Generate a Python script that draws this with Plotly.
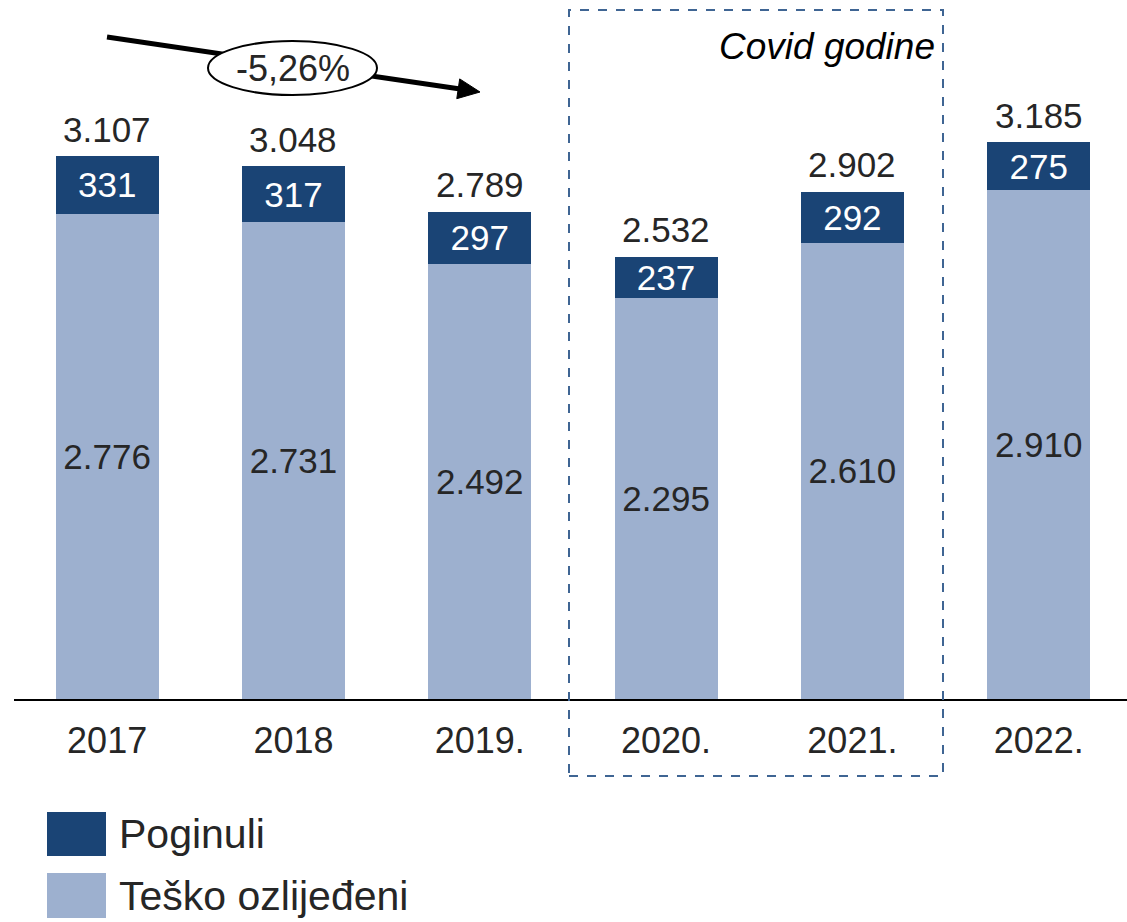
import plotly.graph_objects as go

# Data
years = ["2017", "2018", "2019.", "2020.", "2021.", "2022."]
poginuli = [331, 317, 297, 237, 292, 275]
tesko_ozlijedeni = [2776, 2731, 2492, 2295, 2610, 2910]
ukupno = [p + t for p, t in zip(poginuli, tesko_ozlijedeni)]
promjena_label = "-5,26%"

DARK = "#1A4475"
LIGHT = "#9DB0CF"
TEXT = "#262626"
FONT = "Liberation Sans, Arial, sans-serif"

W, H = 1127, 922
ML, MR, MT, MB = 14, 0, 0, 223
PW, PH = W - ML - MR, H - MT - MB


def px(x):
    """pixel x -> paper x"""
    return (x - ML) / PW


def py(y):
    """pixel y -> paper y"""
    return (H - MB - y) / PH


def fmt(v):
    return f"{v:,}".replace(",", ".")


xi = list(range(len(years)))

fig = go.Figure()
fig.add_trace(go.Bar(
    x=xi, y=tesko_ozlijedeni, name="Teško ozlijeđeni",
    marker=dict(color=LIGHT, line=dict(width=0)),
    texttemplate="%{y:,.0f}", textposition="inside", insidetextanchor="middle",
    textfont=dict(color=TEXT, size=35, family=FONT),
))
fig.add_trace(go.Bar(
    x=xi, y=poginuli, name="Poginuli",
    marker=dict(color=DARK, line=dict(width=0)),
    texttemplate="%{y:,.0f}", textposition="inside", insidetextanchor="middle",
    textfont=dict(color="white", size=35, family=FONT),
))

shapes = []
annotations = []

# Totals above each stack
for x, total in zip(xi, ukupno):
    annotations.append(dict(x=x, y=total, xref="x", yref="y", text=fmt(total),
                            showarrow=False, xanchor="center", yanchor="middle",
                            yshift=27, font=dict(size=35, color=TEXT, family=FONT)))

# Covid period box
shapes.append(dict(type="rect", xref="paper", yref="paper",
                   x0=px(569), x1=px(943), y0=py(776), y1=py(10),
                   line=dict(color="#3F6593", width=2, dash="dash"),
                   fillcolor="rgba(0,0,0,0)", layer="above"))
annotations.append(dict(xref="paper", yref="paper", x=px(937), y=py(47),
                        xanchor="right", yanchor="middle", showarrow=False,
                        text="<i>Covid godine</i>",
                        font=dict(size=37, color="black", family=FONT)))

# Trend arrow with percentage ellipse
ax0, ay0, tx, ty = 107, 37, 480, 92
dx, dy = tx - ax0, ty - ay0
ln = (dx ** 2 + dy ** 2) ** 0.5
ux, uy = dx / ln, dy / ln
hl, hw = 22, 10
bx, by = tx - hl * ux, ty - hl * uy
shapes.append(dict(type="line", xref="paper", yref="paper",
                   x0=px(ax0), y0=py(ay0), x1=px(bx + 2 * ux), y1=py(by + 2 * uy),
                   line=dict(color="black", width=5), layer="above"))
p1 = (bx - hw * uy, by + hw * ux)
p2 = (bx + hw * uy, by - hw * ux)
shapes.append(dict(type="path", xref="paper", yref="paper",
                   path=(f"M{px(tx)},{py(ty)} L{px(p1[0])},{py(p1[1])} "
                         f"L{px(p2[0])},{py(p2[1])} Z"),
                   fillcolor="black", line=dict(color="black", width=1), layer="above"))
shapes.append(dict(type="circle", xref="paper", yref="paper",
                   x0=px(208), x1=px(377), y0=py(95), y1=py(41),
                   fillcolor="white", line=dict(color="black", width=2), layer="above"))
annotations.append(dict(xref="paper", yref="paper", x=px(293), y=py(68),
                        xanchor="center", yanchor="middle", showarrow=False,
                        text=promjena_label,
                        font=dict(size=36, color=TEXT, family=FONT)))

# Legend
legend_items = [("Poginuli", DARK, 812, 856), ("Teško ozlijeđeni", LIGHT, 873, 918)]
for label, col, y0, y1 in legend_items:
    shapes.append(dict(type="rect", xref="paper", yref="paper",
                       x0=px(47), x1=px(106), y0=py(y1), y1=py(y0),
                       fillcolor=col, line=dict(width=0), layer="above"))
    annotations.append(dict(xref="paper", yref="paper", x=px(117), y=py((y0 + y1) / 2),
                            xanchor="left", yanchor="middle", showarrow=False,
                            text=label, font=dict(size=41, color=TEXT, family=FONT)))

fig.update_layout(
    width=W, height=H,
    margin=dict(l=ML, r=MR, t=MT, b=MB, pad=0),
    barmode="stack", bargap=0.447,
    separators=",.",
    plot_bgcolor="white", paper_bgcolor="white",
    showlegend=False,
    uniformtext=dict(minsize=35, mode="show"),
    shapes=shapes, annotations=annotations,
    font=dict(family=FONT, color=TEXT),
    xaxis=dict(range=[-0.5, 5.474], tickvals=xi, ticktext=years,
               showline=True, linecolor="black", linewidth=2,
               showgrid=False, zeroline=False, ticks="",
               ticklabelstandoff=9,
               tickfont=dict(size=36, color=TEXT, family=FONT)),
    yaxis=dict(range=[0, 4000], visible=False, showgrid=False, zeroline=False),
)

fig.write_html("out.html")
